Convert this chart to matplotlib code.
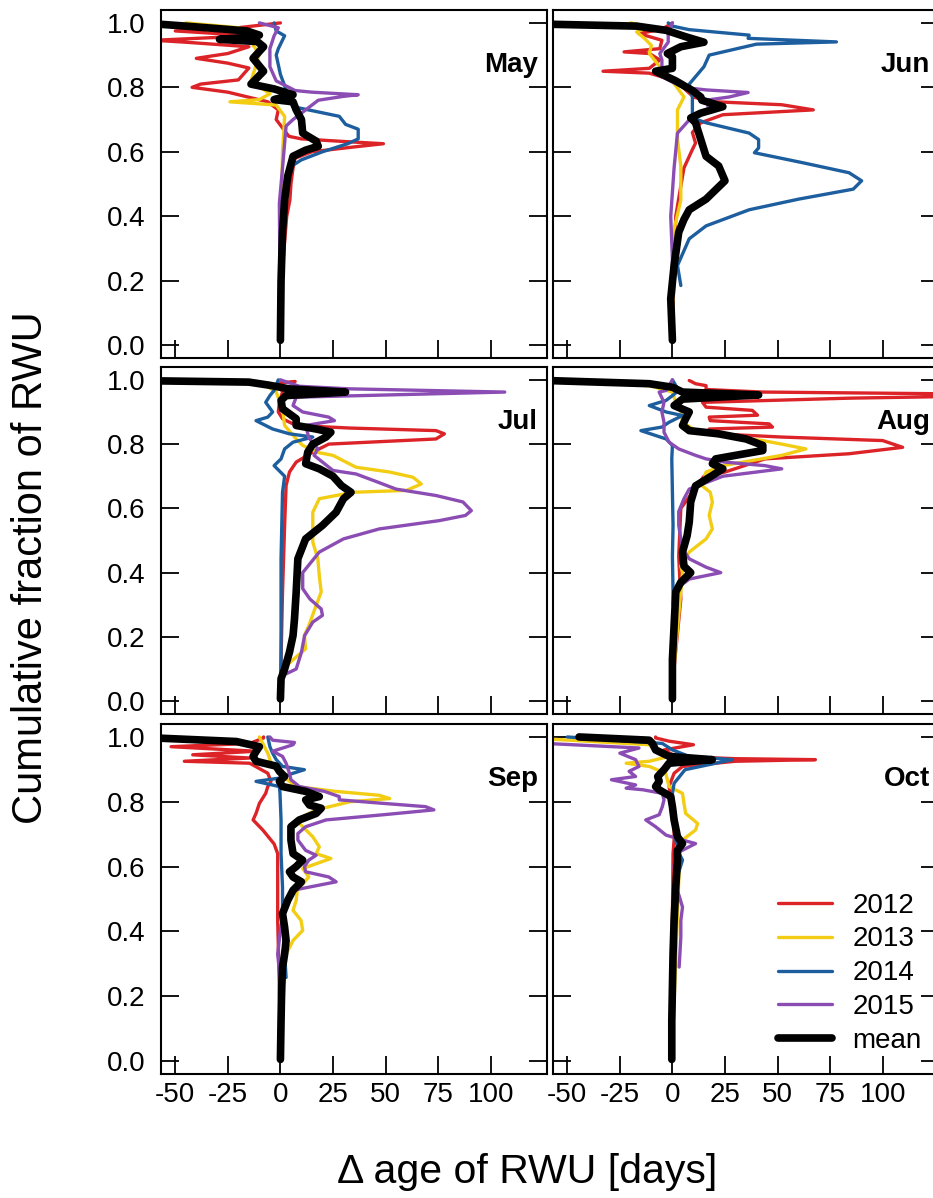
"""Cumulative fraction of root water uptake vs. delta age, May-Oct panels."""

import matplotlib
matplotlib.use("Agg")
import matplotlib.pyplot as plt
import numpy as np

plt.rcParams["font.family"] = ["Liberation Sans", "DejaVu Sans"]

YEARS = ["2012", "2013", "2014", "2015"]
YEAR_COLORS = ["#dc2327", "#f2cd14", "#1d5e9f", "#8b4db4"]
MONTHS = ["May", "Jun", "Jul", "Aug", "Sep", "Oct"]
X_TICKS = [-50, -25, 0, 25, 50, 75, 100]
Y_TICKS = [0.0, 0.2, 0.4, 0.6, 0.8, 1.0]

# Each series: (cumulative fraction of RWU, delta age of RWU in days)
may_2012 = [(0.02, 0), (0.2, 0.5), (0.40, 3), (0.45, 4.5), (0.50, 5), (0.55, 6), (0.58, 7),
            (0.60, 15), (0.615, 35), (0.625, 49), (0.632, 30), (0.64, 10), (0.648, 4),
            (0.70, -2), (0.73, -1), (0.755, -6), (0.785, -25), (0.80, -42), (0.81, -38),
            (0.823, -20), (0.86, -15), (0.875, -25), (0.89, -40), (0.905, -25), (0.926, -15),
            (0.94, -45), (0.946, -60), (0.955, -30), (0.962, -18), (0.975, -50), (0.985, -20),
            (1.0, 0)]
may_2013 = [(0.02, 0), (0.4, 0.5), (0.6, 1), (0.65, 1.5), (0.71, 2), (0.745, -2), (0.755, -24),
            (0.762, -10), (0.78, -5), (0.82, -14), (0.86, -12), (0.905, -10), (0.93, -13),
            (0.96, -10), (0.985, -20), (1.0, -45)]
may_2014 = [(0.02, 0), (0.45, 1), (0.55, 4), (0.575, 10), (0.60, 20), (0.625, 32), (0.64, 37),
            (0.67, 37), (0.685, 31), (0.71, 28), (0.74, 6), (0.77, 4), (0.84, 0), (0.9, -2),
            (0.92, -1), (0.96, 2), (0.975, -2), (1.0, -3)]
may_2015 = [(0.02, 0), (0.44, -0.5), (0.55, 1), (0.68, 2.7), (0.70, 6), (0.73, 12), (0.76, 18),
            (0.772, 30), (0.777, 37), (0.785, 15), (0.79, 7), (0.82, -2), (0.864, -5),
            (0.92, -5), (0.96, -3), (0.985, -1), (1.0, -10)]
may_mean = [(0.015, 0), (0.2, 0.3), (0.35, 1), (0.45, 2), (0.525, 3.5), (0.586, 6), (0.605, 12),
            (0.617, 18), (0.633, 17), (0.658, 10.6), (0.70, 10), (0.73, 7.5), (0.755, 6),
            (0.762, -3), (0.777, 6), (0.795, -3), (0.81, -14), (0.85, -8), (0.89, -13),
            (0.926, -8), (0.942, -11), (0.949, -29), (0.955, -15), (0.962, -10), (0.975, -16),
            (0.99, -45), (0.997, -60)]

jun_2012 = [(0.05, 0), (0.40, 1.6), (0.494, 4), (0.55, 5.5), (0.607, 9.5), (0.627, 11),
            (0.66, 9.5), (0.69, 13.5), (0.715, 24), (0.73, 67), (0.746, 52), (0.756, 17.5),
            (0.77, 10), (0.80, 5), (0.823, 0), (0.844, -11), (0.85, -33), (0.859, -11),
            (0.885, -6), (0.905, -11), (0.91, -23), (0.92, -6), (0.946, -5), (0.967, -16),
            (0.98, -5), (1.0, 0)]
jun_2013 = [(0.05, 0), (0.36, 0.8), (0.45, 4), (0.556, 4), (0.638, 2.4), (0.73, 2.4),
            (0.77, 5.5), (0.833, -1.6), (0.864, -6), (0.905, -11), (0.93, -10), (0.95, -13),
            (0.972, -17), (0.988, -11), (1.0, -20)]
jun_2014 = [(0.185, 4), (0.247, 2.4), (0.33, 8), (0.37, 16), (0.42, 36.5), (0.453, 60),
            (0.484, 86), (0.51, 90), (0.535, 84), (0.566, 62), (0.597, 39), (0.612, 41),
            (0.638, 41), (0.658, 36.5), (0.69, 16), (0.705, 9.5), (0.77, 9.5), (0.81, 8),
            (0.864, 15), (0.90, 17.5), (0.934, 40), (0.941, 78), (0.952, 36), (0.962, 36.5),
            (0.979, 8), (0.99, 0), (1.0, -2)]
jun_2015 = [(0.05, 0), (0.267, 0), (0.40, -0.8), (0.55, 0.8), (0.658, 2.4), (0.71, 9.5),
            (0.73, 17.5), (0.76, 16), (0.77, 27), (0.784, 36), (0.792, 16), (0.80, 5),
            (0.833, -5), (0.885, -5), (0.905, -6), (0.94, -2), (0.967, -2), (1.0, 0)]
jun_mean = [(0.015, 0), (0.144, -0.8), (0.247, 0.8), (0.35, 3), (0.39, 5.5), (0.42, 8),
            (0.453, 16), (0.51, 25), (0.556, 22), (0.586, 16), (0.638, 13.5), (0.69, 11),
            (0.705, 8.7), (0.72, 13.5), (0.74, 24), (0.76, 14), (0.77, 13.5), (0.79, 9.5),
            (0.82, 1.6), (0.85, -8), (0.859, 0), (0.895, 0), (0.905, -2.4), (0.926, 4),
            (0.94, 15), (0.957, 6.3), (0.977, -3), (0.99, -17), (0.996, -60)]

jul_2012 = [(0.05, 0), (0.13, 0.3), (0.34, 1), (0.547, 2), (0.671, 2.7), (0.713, 4.3),
            (0.744, 7.5), (0.775, 15.4), (0.80, 23), (0.816, 74), (0.832, 78), (0.842, 74),
            (0.85, 33), (0.858, 7.5), (0.879, 1), (0.90, -1), (0.93, -0.5), (0.962, 1),
            (0.99, -1), (0.995, 7)]
jul_2013 = [(0.11, 2.7), (0.163, 12), (0.204, 11.4), (0.235, 13.5), (0.298, 17), (0.34, 19.4),
            (0.39, 18.5), (0.443, 17.8), (0.495, 15.4), (0.588, 15.4), (0.63, 18.5),
            (0.65, 34.4), (0.656, 60), (0.676, 67), (0.697, 63), (0.713, 52), (0.728, 36),
            (0.749, 29.7), (0.765, 25), (0.775, 17), (0.796, 10.6), (0.816, 7.5), (0.858, 2),
            (0.91, 1), (0.962, -2), (0.983, -7), (0.997, -20)]
jul_2014 = [(0.03, 0.3), (0.235, 0.3), (0.443, 0.3), (0.65, 1), (0.70, 2), (0.733, -3),
            (0.754, 0.3), (0.785, 2), (0.806, 6), (0.822, 15.4), (0.832, 4.3), (0.847, -3.7),
            (0.873, -11.6), (0.884, -6), (0.90, -3.7), (0.93, -7), (0.951, -5), (0.967, -3),
            (1.0, -1)]
jul_2015 = [(0.085, 2.7), (0.10, 7.5), (0.152, 10), (0.204, 11.5), (0.246, 15.4), (0.267, 20),
            (0.287, 19.4), (0.318, 14), (0.35, 10.6), (0.40, 10.6), (0.464, 18.5), (0.505, 30),
            (0.536, 47), (0.562, 75.7), (0.578, 88), (0.593, 90.8), (0.62, 86.8), (0.64, 74),
            (0.66, 55), (0.68, 47), (0.707, 36), (0.718, 25), (0.744, 20), (0.765, 16),
            (0.785, 17.8), (0.82, 13.5), (0.858, 12), (0.873, 25.7), (0.884, 23), (0.90, 10.6),
            (0.92, 6), (0.946, 7.5), (0.962, 106.7), (0.972, 33), (0.98, 9), (1.0, 0)]
jul_mean = [(0.007, 0), (0.07, 0.3), (0.10, 2), (0.152, 4.3), (0.204, 6), (0.256, 6.7),
            (0.34, 7.5), (0.443, 8.3), (0.505, 12), (0.547, 20), (0.588, 26.5), (0.63, 30),
            (0.65, 33.6), (0.671, 29), (0.70, 25), (0.723, 18.5), (0.739, 12), (0.775, 13),
            (0.80, 15.4), (0.822, 21.7), (0.837, 24), (0.847, 17), (0.858, 7.5), (0.879, 7.5),
            (0.91, 1), (0.936, 0.3), (0.951, 2.7), (0.962, 31), (0.972, 4), (0.983, -5),
            (0.993, -15), (0.997, -60)]

aug_2012 = [(0.05, 0), (0.318, 4), (0.45, 3), (0.60, 4), (0.70, 15), (0.713, 25), (0.754, 44),
            (0.77, 84), (0.79, 109.5), (0.811, 100), (0.822, 52), (0.832, 20.6), (0.847, 17.5),
            (0.853, 47.6), (0.863, 46), (0.873, 18), (0.884, 17.5), (0.89, 40.5), (0.905, 38),
            (0.915, 16), (0.93, 14.3), (0.943, 84), (0.949, 140), (0.956, 140), (0.962, 43),
            (0.97, 16), (0.982, 16), (0.988, 11), (0.998, 8)]
aug_2013 = [(0.05, 0), (0.40, 4.8), (0.42, 4), (0.464, 8), (0.505, 16), (0.536, 19),
            (0.578, 17.5), (0.62, 19), (0.65, 18), (0.671, 14), (0.713, 16), (0.733, 24),
            (0.765, 52), (0.785, 63.5), (0.80, 52), (0.811, 43), (0.827, 21), (0.842, 11),
            (0.868, 4.8), (0.90, 4), (0.93, 1.6), (0.962, 0), (0.982, -11), (0.99, -35),
            (0.994, -60)]
aug_2014 = [(0.30, 0.3), (0.34, 0.3), (0.45, 0), (0.547, 0.3), (0.65, 0), (0.754, -0.3),
            (0.796, 0), (0.816, -3), (0.842, -15), (0.853, -5), (0.868, -1.6), (0.889, 4.8),
            (0.90, -3), (0.92, -11), (0.936, -3), (0.951, 0), (0.967, 3), (1.0, 0)]
aug_2015 = [(0.36, 4), (0.38, 8), (0.40, 23), (0.417, 16), (0.443, 8), (0.474, 4.8),
            (0.505, 4), (0.547, 3), (0.59, 3), (0.63, 5.5), (0.66, 8), (0.68, 16), (0.70, 24),
            (0.723, 52), (0.733, 44), (0.744, 25), (0.754, 16), (0.765, 11), (0.785, 3),
            (0.806, -1.6), (0.837, -4), (0.868, -4), (0.90, -5), (0.93, -4), (0.962, -6.3),
            (0.967, -3), (1.0, 0)]
aug_mean = [(0.007, 0), (0.13, 0), (0.235, 0.8), (0.34, 1.6), (0.37, 4), (0.40, 8.7),
            (0.42, 5.5), (0.464, 4.8), (0.515, 7), (0.557, 8), (0.62, 8.7), (0.67, 11),
            (0.69, 16), (0.723, 24), (0.739, 19), (0.754, 20.6), (0.765, 30), (0.78, 43),
            (0.796, 43), (0.816, 35), (0.832, 22), (0.842, 8), (0.858, 4.8), (0.879, 6.3),
            (0.90, 8), (0.92, 0.8), (0.94, 4.8), (0.953, 41), (0.962, 4.8), (0.977, 0),
            (0.988, -11), (0.998, -60)]

sep_2012 = [(0.05, 0), (0.227, -0.5), (0.434, -1.3), (0.64, -1.3), (0.67, -3), (0.713, -8.4),
            (0.744, -13), (0.764, -11.6), (0.795, -10), (0.826, -7), (0.847, -6),
            (0.863, -4.5), (0.888, -6), (0.919, -14.6), (0.925, -45.7), (0.935, -14.6),
            (0.945, -41.7), (0.956, -11.6), (0.97, -52), (0.98, -14.6), (0.997, -8), (1.0, -8)]
sep_2013 = [(0.10, 0.5), (0.33, 2.7), (0.372, 6), (0.403, 10.6), (0.434, 9.8), (0.465, 6),
            (0.496, 7.5), (0.527, 8), (0.568, 13.5), (0.594, 10.6), (0.625, 24), (0.64, 17),
            (0.661, 18.5), (0.692, 15.4), (0.723, 10.6), (0.744, 7.5), (0.775, 17), (0.80, 33),
            (0.81, 52), (0.82, 47), (0.832, 26.5), (0.847, 7.5), (0.863, 4.3), (0.888, -0.5),
            (0.91, -3.7), (0.93, -5), (0.95, -6), (1.0, -10)]
sep_2014 = [(0.258, 2.7), (0.33, 2), (0.434, 1), (0.537, 1), (0.64, 0.3), (0.744, 0.3),
            (0.826, -0.2), (0.847, -0.5), (0.863, -11.6), (0.873, -0.5), (0.888, 6),
            (0.899, 11.4), (0.909, 1), (0.93, -2), (0.95, -3.7), (0.97, -5), (1.0, -6)]
sep_2015 = [(0.05, 0), (0.227, 0.3), (0.33, -1.3), (0.42, 0.3), (0.475, 2.7), (0.527, 6),
            (0.553, 26.5), (0.568, 23), (0.584, 12), (0.60, 11.4), (0.62, 13.5), (0.635, 17),
            (0.65, 12), (0.682, 8.3), (0.702, 8.3), (0.723, 12), (0.744, 21.7), (0.76, 49),
            (0.775, 73), (0.785, 69), (0.795, 49), (0.806, 28), (0.816, 28), (0.832, 21),
            (0.847, 9), (0.868, 5), (0.888, 4.3), (0.919, 2.7), (0.94, 1), (0.956, -3.7),
            (0.976, 6), (0.983, 6.7), (0.99, -3.7), (1.0, -5)]
sep_mean = [(0.005, 0), (0.124, 0.3), (0.227, 0.6), (0.29, 1), (0.33, 2), (0.372, 2.7),
            (0.413, 2), (0.455, 1), (0.496, 3.5), (0.527, 6), (0.553, 10), (0.568, 6),
            (0.584, 4.3), (0.60, 7.5), (0.62, 10.6), (0.64, 6), (0.682, 5), (0.723, 5),
            (0.744, 9), (0.764, 17), (0.78, 19.4), (0.79, 13.8), (0.806, 12), (0.816, 18.5),
            (0.832, 12), (0.847, 1), (0.863, -0.5), (0.878, 2), (0.894, -0.5), (0.91, -2),
            (0.925, -11.6), (0.94, -13), (0.955, -11.6), (0.97, -10), (0.986, -21),
            (0.997, -60)]

oct_2012 = [(0.05, 0), (0.434, 0), (0.64, 0.3), (0.682, 0.8), (0.744, 0.8), (0.785, 0),
            (0.847, -1.6), (0.888, 0.8), (0.909, 4.8), (0.925, 30), (0.93, 68), (0.933, 30),
            (0.94, 1.6), (0.96, -4), (0.976, 10), (0.987, -1.6), (0.997, -8), (1.0, -8)]
oct_2013 = [(0.05, 0), (0.589, 3.2), (0.64, 2.4), (0.682, 4.8), (0.713, 11), (0.733, 12),
            (0.764, 6.3), (0.795, 5.5), (0.826, 4.8), (0.847, -1.6), (0.888, -3.2),
            (0.909, -11), (0.919, -22), (0.925, -11), (0.94, -1.6), (0.955, -8), (0.976, -11),
            (0.994, -60)]
oct_2014 = [(0.05, 0), (0.537, 0.8), (0.62, 4.8), (0.64, 3.2), (0.682, 1.6), (0.744, 0.8),
            (0.826, 0), (0.857, 0.8), (0.899, 6), (0.919, 20.6), (0.93, 28.6), (0.94, 8),
            (0.96, 0), (0.98, -4.8), (1.0, -50)]
oct_2015 = [(0.29, 3.2), (0.382, 4), (0.434, 4), (0.475, 4.8), (0.51, 3.2), (0.537, 1.6),
            (0.60, 0.8), (0.64, 1.6), (0.671, 11), (0.682, 4.8), (0.697, -3), (0.723, -8),
            (0.744, -12.7), (0.76, -6.3), (0.785, -4.8), (0.806, -4), (0.826, -4.8),
            (0.837, -14), (0.842, -22), (0.852, -17.5), (0.868, -29), (0.878, -17.5),
            (0.894, -20.6), (0.909, -15.9), (0.93, -17.5), (0.95, -25), (0.966, -15.9),
            (0.98, -60)]
oct_mean = [(0.005, -0.3), (0.124, -0.3), (0.227, 0), (0.33, 0.3), (0.434, 0.8), (0.537, 1.6),
            (0.62, 2.4), (0.65, 2.4), (0.671, 4.8), (0.692, 2.4), (0.744, 0.8), (0.785, 0),
            (0.816, -0.8), (0.837, -6.3), (0.847, -8), (0.863, -6.3), (0.878, -7),
            (0.899, -4), (0.919, -1.6), (0.93, 19), (0.94, -1.6), (0.96, -8), (0.98, -9.5),
            (0.99, -11), (1.0, -44.4)]

PANELS = {
    "May": ([may_2012, may_2013, may_2014, may_2015], may_mean),
    "Jun": ([jun_2012, jun_2013, jun_2014, jun_2015], jun_mean),
    "Jul": ([jul_2012, jul_2013, jul_2014, jul_2015], jul_mean),
    "Aug": ([aug_2012, aug_2013, aug_2014, aug_2015], aug_mean),
    "Sep": ([sep_2012, sep_2013, sep_2014, sep_2015], sep_mean),
    "Oct": ([oct_2012, oct_2013, oct_2014, oct_2015], oct_mean),
}

# ---------------------------------------------------------------------------
# Layout (pixel boxes of the panels in a 933 x 1198 canvas)
# ---------------------------------------------------------------------------
W, H = 933, 1198
COL_LEFT = [161, 553]
PANEL_W = 386
ROW_TOP = [10, 367, 724]
PANEL_H = [348, 347, 350]

fig = plt.figure(figsize=(W / 100, H / 100), dpi=100)

for i, month in enumerate(MONTHS):
    row, col = divmod(i, 2)
    rect = [COL_LEFT[col] / W, 1 - (ROW_TOP[row] + PANEL_H[row]) / H,
            PANEL_W / W, PANEL_H[row] / H]
    ax = fig.add_axes(rect)

    years, mean = PANELS[month]
    handles = []
    for pts, color, label in zip(years, YEAR_COLORS, YEARS):
        arr = np.asarray(pts, dtype=float)
        (ln,) = ax.plot(arr[:, 1], arr[:, 0], color=color, linewidth=2.4,
                        solid_joinstyle="round", solid_capstyle="round", label=label)
        handles.append(ln)
    arr = np.asarray(mean, dtype=float)
    (ln,) = ax.plot(arr[:, 1], arr[:, 0], color="black", linewidth=5.5,
                    solid_joinstyle="round", solid_capstyle="round", label="mean")
    handles.append(ln)

    ax.set_xlim(-56.8, 126.8)
    ax.set_ylim(-0.04, 1.04)
    ax.set_xticks(X_TICKS)
    ax.set_yticks(Y_TICKS)
    ax.set_xticklabels([str(t) for t in X_TICKS])
    ax.set_yticklabels([f"{t:.1f}" for t in Y_TICKS])
    ax.tick_params(axis="y", direction="in", length=13, width=1.3, left=True,
                   right=True, labelleft=(col == 0), labelsize=20, pad=11)
    ax.tick_params(axis="x", direction="in", length=13, width=1.3, bottom=True,
                   top=False, labelbottom=(row == 2), labelsize=20, pad=6)
    for sp in ax.spines.values():
        sp.set_linewidth(1.5)

    ax.text(0.977, 0.822, month, transform=ax.transAxes, ha="right",
            va="baseline", fontsize=20, fontweight="bold")

    if month == "Oct":
        ax.legend(handles=handles, loc="upper left", bbox_to_anchor=(0.583, 0.518),
                  frameon=False, fontsize=20, handlelength=1.95, handletextpad=0.72,
                  labelspacing=0.28, borderpad=0, borderaxespad=0)

fig.text(0.033, 0.526, "Cumulative fraction of RWU", rotation=90,
         ha="center", va="center", fontsize=30)
fig.text(527 / W, 1 - 1183 / H, "\u0394 age of RWU [days]",
         ha="center", va="baseline", fontsize=29.5)

fig.savefig("out.png", dpi=100)
